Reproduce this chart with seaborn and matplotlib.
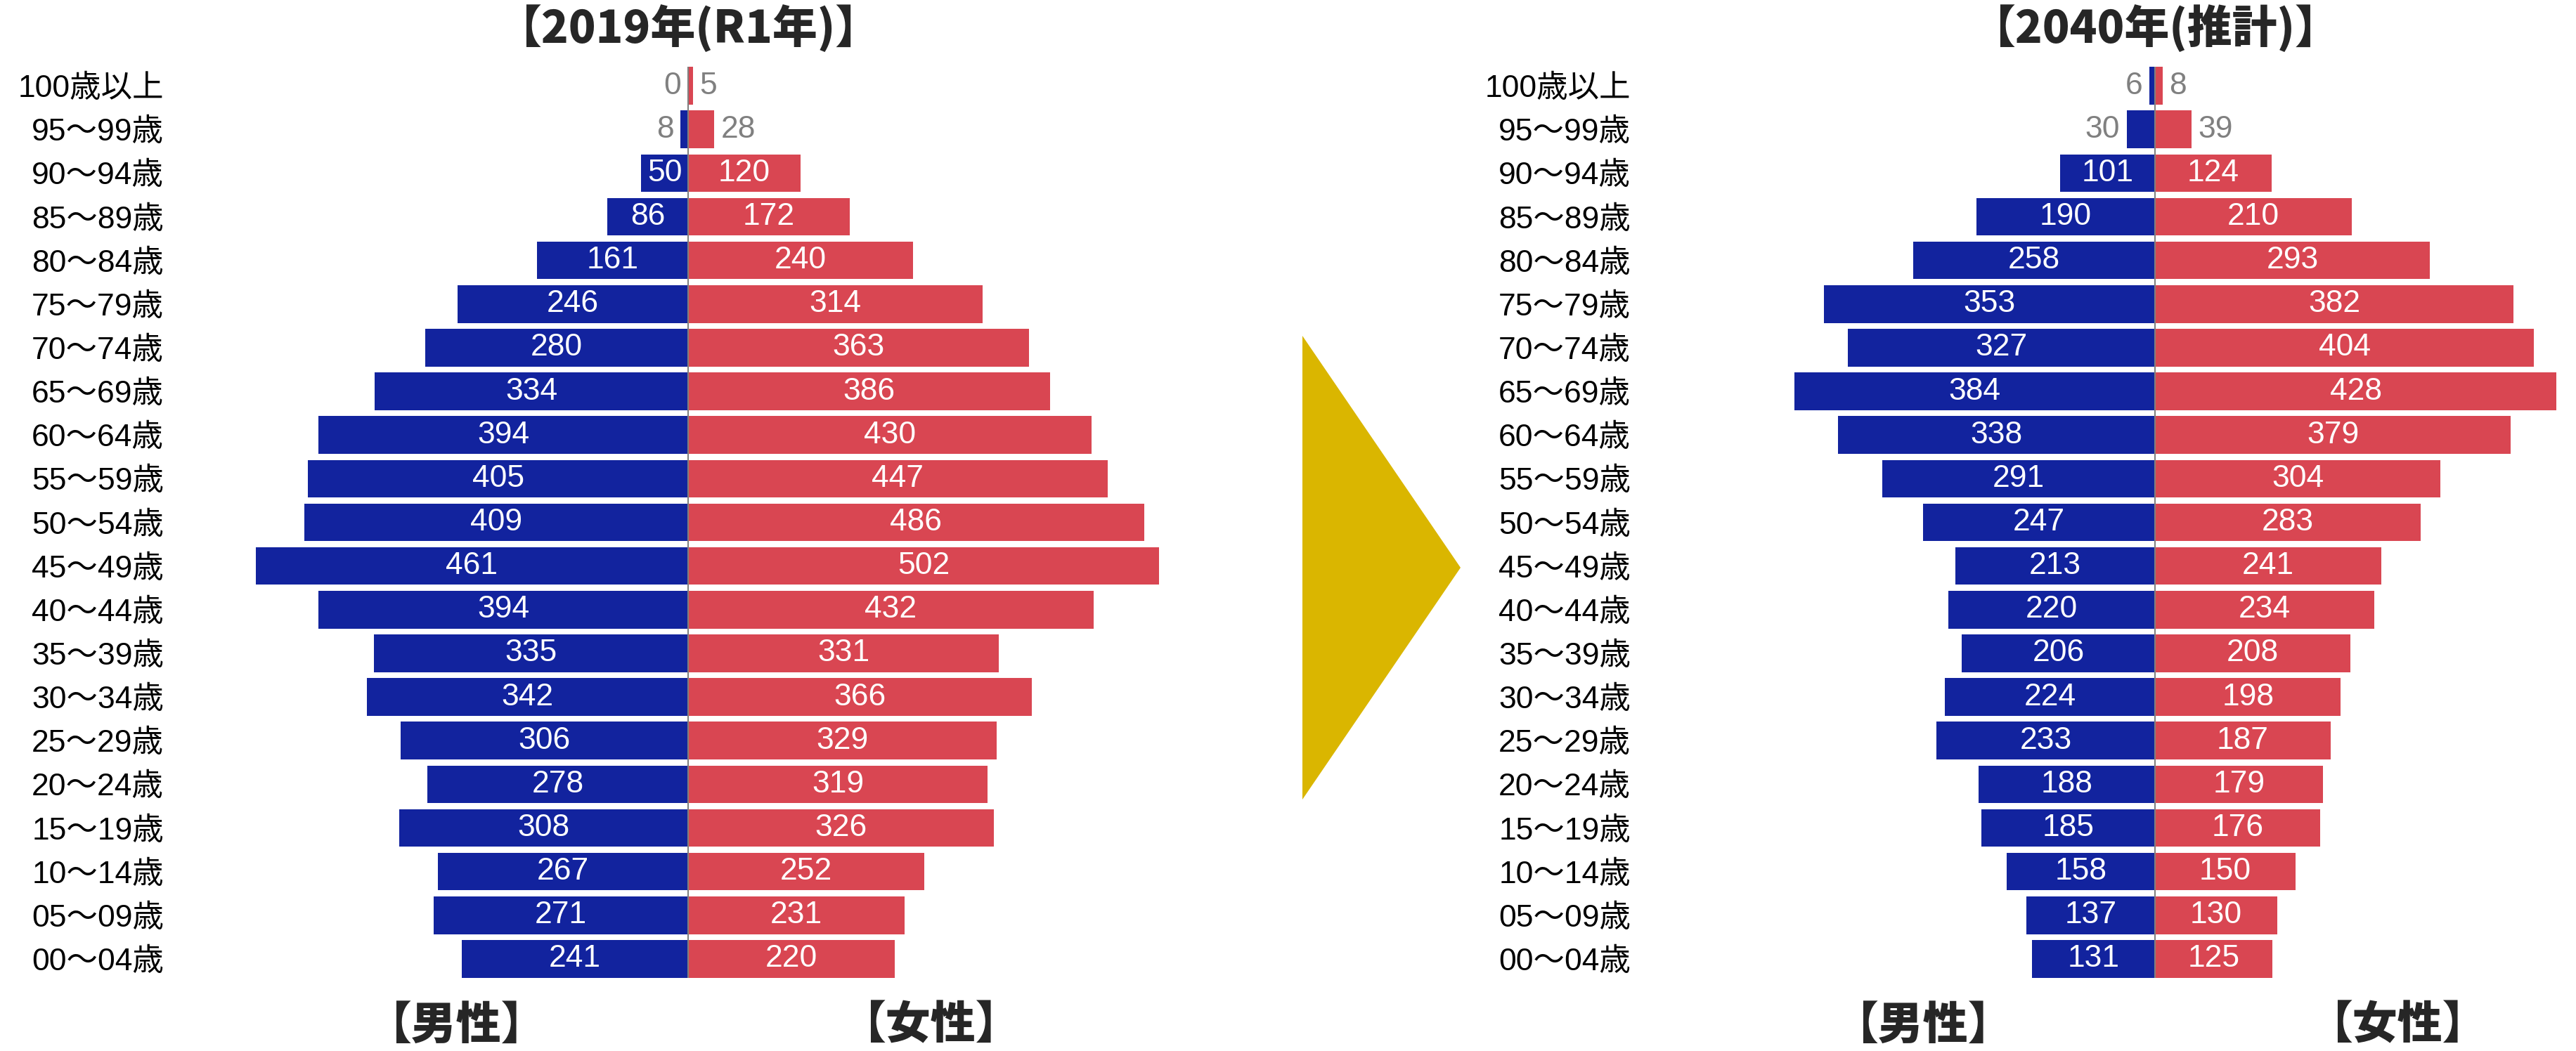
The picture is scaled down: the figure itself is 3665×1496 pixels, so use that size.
import matplotlib
matplotlib.use("Agg")
import matplotlib.pyplot as plt
from matplotlib.patches import Polygon
import pandas as pd
import seaborn as sns

age_labels = [
    "100歳以上", "95〜99歳", "90〜94歳", "85〜89歳", "80〜84歳", "75〜79歳",
    "70〜74歳", "65〜69歳", "60〜64歳", "55〜59歳", "50〜54歳", "45〜49歳",
    "40〜44歳", "35〜39歳", "30〜34歳", "25〜29歳", "20〜24歳", "15〜19歳",
    "10〜14歳", "05〜09歳", "00〜04歳",
]
male_2019 = [0, 8, 50, 86, 161, 246, 280, 334, 394, 405, 409, 461, 394, 335, 342, 306, 278, 308, 267, 271, 241]
female_2019 = [5, 28, 120, 172, 240, 314, 363, 386, 430, 447, 486, 502, 432, 331, 366, 329, 319, 326, 252, 231, 220]
male_2040 = [6, 30, 101, 190, 258, 353, 327, 384, 338, 291, 247, 213, 220, 206, 224, 233, 188, 185, 158, 137, 131]
female_2040 = [8, 39, 124, 210, 293, 382, 404, 428, 379, 304, 283, 241, 234, 208, 198, 187, 179, 176, 150, 130, 125]
titles = ["【2019年(R1年)】", "【2040年(推計)】"]

BLUE = "#12239E"
RED = "#D94652"
GOLD = "#DAB600"
GREY = "#808080"

sns.set_theme(style="white")
plt.rcParams["font.family"] = ["Liberation Sans", "Noto Sans CJK JP", "DejaVu Sans"]
CJK = ["Noto Sans CJK JP", "DejaVu Sans"]

W, H = 3665, 1496
fig = plt.figure(figsize=(W / 100, H / 100), dpi=100)

px_per_unit = 1.335
row_top, row_bottom = 91, 1396


def add_panel(zero_px, xlim):
    left = zero_px + xlim[0] * px_per_unit
    width = (xlim[1] - xlim[0]) * px_per_unit
    ax = fig.add_axes([left / W, 1 - row_bottom / H, width / W, (row_bottom - row_top) / H])
    return ax


def draw(ax, male, female, xlim):
    df_m = pd.DataFrame({"age": age_labels, "value": [-v for v in male]})
    df_f = pd.DataFrame({"age": age_labels, "value": female})
    sns.barplot(data=df_m, x="value", y="age", order=age_labels, orient="h",
                color=BLUE, saturation=1, width=0.86, linewidth=0, ax=ax)
    sns.barplot(data=df_f, x="value", y="age", order=age_labels, orient="h",
                color=RED, saturation=1, width=0.86, linewidth=0, ax=ax)
    ax.vlines(0, -0.43, len(age_labels) - 1 + 0.43, color=GREY, lw=1.5, zorder=3)
    ax.set_xlim(*xlim)
    ax.set_ylim(len(age_labels) - 0.5, -0.5)
    ax.set_xticks([])
    ax.set_xlabel("")
    ax.set_ylabel("")
    ax.tick_params(axis="y", length=0, pad=18, labelsize=32, labelcolor="black")
    sns.despine(ax=ax, left=True, bottom=True)

    for i, (m, f) in enumerate(zip(male, female)):
        if m >= 45:
            ax.text(-m / 2, i, str(m), color="white", fontsize=32, ha="center", va="center")
        else:
            ax.annotate(str(m), (-m, i), xytext=(-7, 0), textcoords="offset points",
                        color=GREY, fontsize=32, ha="right", va="center")
        if f >= 45:
            ax.text(f / 2, i, str(f), color="white", fontsize=32, ha="center", va="center")
        else:
            ax.annotate(str(f), (f, i), xytext=(7, 0), textcoords="offset points",
                        color=GREY, fontsize=32, ha="left", va="center")


panels = [
    (979, (-540, 560), male_2019, female_2019, titles[0]),
    (3066, (-540, 450), male_2040, female_2040, titles[1]),
]
for zero_px, xlim, male, female, title in panels:
    ax = add_panel(zero_px, xlim)
    draw(ax, male, female, xlim)
    fig.text(zero_px / W, 1 - 40 / H, title, ha="center", va="center",
             fontsize=46, fontweight=900, family=CJK)
    fig.text((zero_px - 330) / W, 1 - 1460 / H, "【男性】", ha="center", va="center",
             fontsize=46, fontweight=900, family=CJK)
    fig.text((zero_px + 345) / W, 1 - 1460 / H, "【女性】", ha="center", va="center",
             fontsize=46, fontweight=900, family=CJK)

arrow = Polygon([(1853 / W, 1 - 478 / H), (1853 / W, 1 - 1138 / H), (2078 / W, 1 - 808 / H)],
                closed=True, transform=fig.transFigure, facecolor=GOLD, edgecolor="none")
fig.add_artist(arrow)

fig.savefig("out.png", dpi=100, facecolor="white")
